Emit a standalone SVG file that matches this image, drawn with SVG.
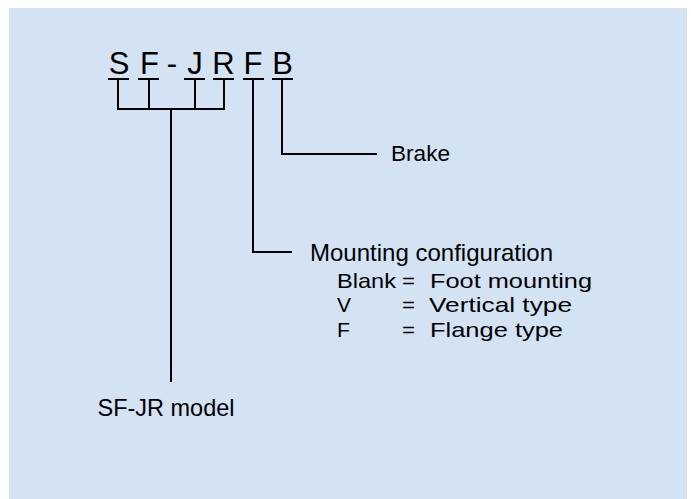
<svg xmlns="http://www.w3.org/2000/svg" width="691" height="499" viewBox="0 0 691 499">
<style>
text{font-family:"Liberation Sans",Arial,sans-serif;fill:#000}
.big{font-size:31px;text-anchor:middle}
.lbl{font-size:24px}
.row{font-size:21px}
.ln{stroke:#000;stroke-width:2;fill:none}
</style>
<rect x="9" y="8" width="678" height="491" fill="#d3e3f3"/>
<g id="code">
<text class="big" x="119" y="73.5">S</text>
<text class="big" x="149.5" y="73.5">F</text>
<text class="big" x="172" y="73.5">-</text>
<text class="big" x="195" y="73.5">J</text>
<text class="big" x="223.5" y="73.5">R</text>
<text class="big" x="253" y="73.5">F</text>
<text class="big" x="282.5" y="73.5">B</text>
</g>
<g id="connectors">
<path class="ln" d="M108 79H129M138 79H159M184 79H205M213 79H234M243 79H264M272 79H293"/>
<path class="ln" d="M118 79V109H224V79M149 79V109M195 79V109M171 109V382"/>
<path class="ln" d="M282 79V154H377"/>
<path class="ln" d="M253 79V252H292"/>
</g>
<g id="brake"><text class="lbl" x="391" y="161" style="font-size:22.5px" textLength="59" lengthAdjust="spacingAndGlyphs">Brake</text></g>
<g id="mounting">
<text class="lbl" x="310" y="261" textLength="243" lengthAdjust="spacingAndGlyphs">Mounting configuration</text>
<text class="row" x="337" y="287.5" textLength="59" lengthAdjust="spacingAndGlyphs">Blank</text><text class="row" x="402" y="287.5" textLength="13" lengthAdjust="spacingAndGlyphs">=</text><text class="row" x="430" y="287.5" textLength="162" lengthAdjust="spacingAndGlyphs">Foot mounting</text>
<text class="row" x="337" y="312" textLength="14" lengthAdjust="spacingAndGlyphs">V</text><text class="row" x="402" y="312" textLength="13" lengthAdjust="spacingAndGlyphs">=</text><text class="row" x="429" y="312" textLength="143" lengthAdjust="spacingAndGlyphs">Vertical type</text>
<text class="row" x="337" y="336.5" textLength="13" lengthAdjust="spacingAndGlyphs">F</text><text class="row" x="402" y="336.5" textLength="13" lengthAdjust="spacingAndGlyphs">=</text><text class="row" x="430" y="336.5" textLength="133" lengthAdjust="spacingAndGlyphs">Flange type</text>
</g>
<g id="model"><text class="lbl" x="97.5" y="416" textLength="137" lengthAdjust="spacingAndGlyphs">SF-JR model</text></g>
</svg>
